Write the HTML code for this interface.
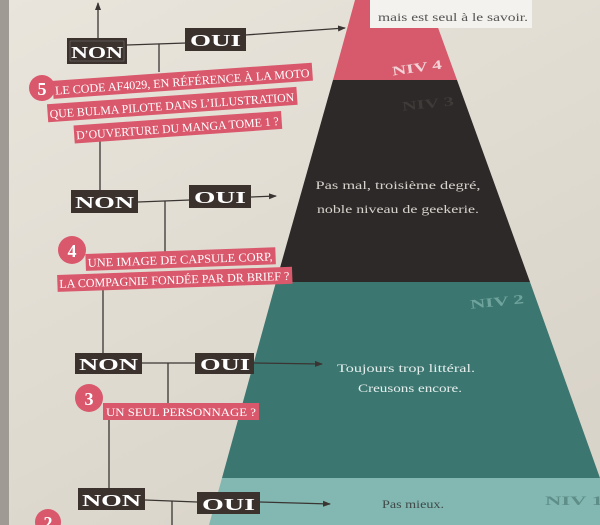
<!DOCTYPE html>
<html><head><meta charset="utf-8"><style>
html,body{margin:0;padding:0;width:600px;height:525px;overflow:hidden;background:#e4dfd5}
svg{display:block}
.q{font-family:"Liberation Serif",serif;font-size:12px;fill:#fff}
.b{font-family:"Liberation Serif",serif;font-weight:bold;font-size:17px;fill:#fff}
.p{font-family:"Liberation Serif",serif;font-size:12px}
</style></head><body>
<svg width="600" height="525" viewBox="0 0 600 525" xmlns="http://www.w3.org/2000/svg">
<defs>
<linearGradient id="bg" x1="0" y1="0" x2="0.6" y2="1">
<stop offset="0" stop-color="#e9e5dc"/><stop offset="1" stop-color="#d9d4c9"/>
</linearGradient>
<marker id="ar" markerWidth="8" markerHeight="8" refX="7" refY="4" orient="auto" markerUnits="userSpaceOnUse">
<path d="M0,1 L8,4 L0,7 Z" fill="#3a3532"/></marker>
</defs>
<rect width="600" height="525" fill="url(#bg)"/>
<rect x="0" y="0" width="9" height="525" fill="#a09a94"/>
<!-- pyramid -->
<polygon points="355,0 428,0 457,80 333,80" fill="#d65a6b"/>
<polygon points="333,80 457,80 530,282 276,282" fill="#2c2928"/>
<polygon points="276,282 530,282 600,478 222,478" fill="#3c7670"/>
<polygon points="222,478 600,478 600,525 209,525" fill="#82b8b1"/>
<!-- top white box -->
<rect x="370" y="0" width="162" height="28" fill="#f4f2ee"/>
<text x="378" y="21" class="p" fill="#555" textLength="150" lengthAdjust="spacingAndGlyphs">mais est seul à le savoir.</text>
<text x="392" y="72" class="b" style="font-size:13px;fill:#f1d2d6" textLength="50" lengthAdjust="spacingAndGlyphs" transform="rotate(-8 417 68)">NIV 4</text>
<text x="402" y="108" class="b" style="font-size:13px;fill:#3e3b39" textLength="52" lengthAdjust="spacingAndGlyphs" transform="rotate(-6 428 104)">NIV 3</text>
<text x="470" y="306" class="b" style="font-size:13px;fill:#6fa49d" textLength="54" lengthAdjust="spacingAndGlyphs" transform="rotate(-6 497 302)">NIV 2</text>
<text x="545" y="505" class="b" style="font-size:13px;fill:#5f8e89" textLength="58" lengthAdjust="spacingAndGlyphs">NIV 1</text>
<text x="398" y="189" class="p" fill="#d6d2cc" text-anchor="middle" textLength="165" lengthAdjust="spacingAndGlyphs">Pas mal, troisième degré,</text>
<text x="398" y="213" class="p" fill="#d6d2cc" text-anchor="middle" textLength="162" lengthAdjust="spacingAndGlyphs">noble niveau de geekerie.</text>
<text x="406" y="372" class="p" fill="#e4eeec" text-anchor="middle" textLength="138" lengthAdjust="spacingAndGlyphs">Toujours trop littéral.</text>
<text x="410" y="392" class="p" fill="#e4eeec" text-anchor="middle" textLength="104" lengthAdjust="spacingAndGlyphs">Creusons encore.</text>
<text x="413" y="508" class="p" fill="#3f4a49" text-anchor="middle" textLength="62" lengthAdjust="spacingAndGlyphs">Pas mieux.</text>
<!-- lines -->
<g stroke="#3a3532" stroke-width="1.3" fill="none">
<line x1="98" y1="38" x2="98" y2="3" marker-end="url(#ar)"/>
<line x1="126" y1="45" x2="186" y2="43"/>
<line x1="159" y1="44" x2="159" y2="72"/>
<line x1="245" y1="35" x2="345" y2="28" marker-end="url(#ar)"/>
<line x1="100" y1="138" x2="100" y2="190"/>
<line x1="138" y1="202" x2="190" y2="200"/>
<line x1="165" y1="201" x2="165" y2="252"/>
<line x1="251" y1="197" x2="276" y2="196" marker-end="url(#ar)"/>
<line x1="103" y1="288" x2="103" y2="353"/>
<line x1="142" y1="363" x2="195" y2="363"/>
<line x1="168" y1="363" x2="168" y2="403"/>
<line x1="254" y1="363" x2="322" y2="364" marker-end="url(#ar)"/>
<line x1="109" y1="420" x2="109" y2="488"/>
<line x1="145" y1="500" x2="197" y2="502"/>
<line x1="172" y1="501" x2="172" y2="525"/>
<line x1="260" y1="502" x2="330" y2="504" marker-end="url(#ar)"/>
</g>
<!-- NON / OUI boxes -->
<g>
<rect x="67" y="38" width="60" height="26" fill="#3b322e"/><rect x="70" y="41" width="54" height="20" fill="none" stroke="#fff" stroke-width="0.6" opacity="0.3"/>
<text x="71" y="58" class="b" textLength="52" lengthAdjust="spacingAndGlyphs">NON</text>
<rect x="185" y="28" width="61" height="23" fill="#3b322e"/>
<text x="190" y="46" class="b" textLength="51" lengthAdjust="spacingAndGlyphs">OUI</text>
<rect x="71" y="190" width="67" height="23" fill="#3b322e"/>
<text x="75" y="208" class="b" textLength="59" lengthAdjust="spacingAndGlyphs">NON</text>
<rect x="189" y="185" width="62" height="23" fill="#3b322e"/>
<text x="194" y="203" class="b" textLength="52" lengthAdjust="spacingAndGlyphs">OUI</text>
<rect x="75" y="353" width="67" height="21" fill="#3b322e"/>
<text x="79" y="370" class="b" textLength="59" lengthAdjust="spacingAndGlyphs">NON</text>
<rect x="195" y="353" width="59" height="21" fill="#3b322e"/>
<text x="200" y="370" class="b" textLength="50" lengthAdjust="spacingAndGlyphs">OUI</text>
<rect x="78" y="488" width="67" height="22" fill="#3b322e"/>
<text x="82" y="506" class="b" textLength="59" lengthAdjust="spacingAndGlyphs">NON</text>
<rect x="197" y="492" width="63" height="22" fill="#3b322e"/>
<text x="202" y="510" class="b" textLength="53" lengthAdjust="spacingAndGlyphs">OUI</text>
</g>
<!-- Q5 -->
<g transform="rotate(-4 180 100)">
<rect x="54" y="72" width="260" height="18" fill="#d9586c"/>
<text x="56" y="86" class="q" textLength="255" lengthAdjust="spacingAndGlyphs">LE CODE AF4029, EN RÉFÉRENCE À LA MOTO</text>
<rect x="47" y="95" width="250" height="18" fill="#d9586c"/>
<text x="49" y="109" class="q" textLength="245" lengthAdjust="spacingAndGlyphs">QUE BULMA PILOTE DANS L’ILLUSTRATION</text>
<rect x="72" y="118" width="208" height="18" fill="#d9586c"/>
<text x="74" y="132" class="q" textLength="203" lengthAdjust="spacingAndGlyphs">D’OUVERTURE DU MANGA TOME 1 ?</text>
</g>
<circle cx="42" cy="88" r="13" fill="#d9586c"/>
<text x="42" y="95" class="b" text-anchor="middle" style="font-size:18px">5</text>
<!-- Q4 -->
<g transform="rotate(-2 170 270)">
<rect x="86" y="251" width="190" height="17" fill="#d9586c"/>
<text x="88" y="264" class="q" textLength="185" lengthAdjust="spacingAndGlyphs">UNE IMAGE DE CAPSULE CORP,</text>
<rect x="57" y="271" width="235" height="17" fill="#d9586c"/>
<text x="59" y="284" class="q" textLength="230" lengthAdjust="spacingAndGlyphs">LA COMPAGNIE FONDÉE PAR DR BRIEF ?</text>
</g>
<circle cx="72" cy="250" r="14" fill="#d9586c"/>
<text x="72" y="257" class="b" text-anchor="middle" style="font-size:18px">4</text>
<!-- Q3 -->
<rect x="103" y="403" width="156" height="17" fill="#d9586c"/>
<text x="106" y="416" class="q" textLength="150" lengthAdjust="spacingAndGlyphs">UN SEUL PERSONNAGE ?</text>
<circle cx="89" cy="398" r="14" fill="#d9586c"/>
<text x="89" y="405" class="b" text-anchor="middle" style="font-size:18px">3</text>
<!-- Q2 partial -->
<circle cx="48" cy="522" r="13" fill="#d9586c"/>
<text x="48" y="529" class="b" text-anchor="middle" style="font-size:18px">2</text>
</svg>
</body></html>
